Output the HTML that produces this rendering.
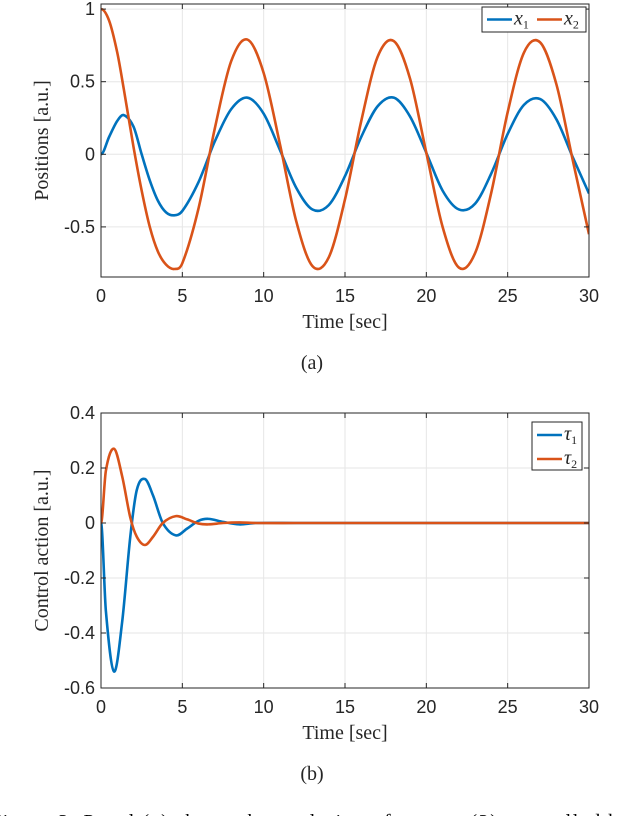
<!DOCTYPE html>
<html><head><meta charset="utf-8"><style>
html,body{margin:0;padding:0;background:#fff;overflow:hidden}
svg{display:block}
.tk{font-family:"Liberation Sans",sans-serif;font-size:18px;fill:#262626}
.lb{font-family:"Liberation Serif",serif;font-size:20px;fill:#262626}
.cap{font-family:"Liberation Serif",serif;font-size:20px;fill:#000}
.grid{stroke:#e6e6e6;stroke-width:1}
</style></head><body>
<svg id="fig" width="624" height="816" viewBox="0 0 624 816" xmlns="http://www.w3.org/2000/svg">
<defs>
<clipPath id="clipA"><rect x="101" y="4" width="488" height="273"/></clipPath>
<clipPath id="clipB"><rect x="101" y="413" width="488" height="275"/></clipPath>
</defs>
<g id="plotA"></g>
<g id="plotB"></g>
<text class="lb" x="312" y="369" text-anchor="middle">(a)</text>
<text class="lb" x="312" y="780" text-anchor="middle">(b)</text>
<text class="cap" x="-10" y="828" textLength="640" lengthAdjust="spacing">Figure 3:   Panel (a) shows the evolution of system (3) controlled by</text>
</svg>
<script>
// ---- Panel (a) data ----
const tA = [0,0.5,1,1.4,2,2.5,3,3.5,4,4.5,5,6,7,8,9,10,11,12,13,14,15,16,17,18,19,20,21,22,23,24,25,26,27,28,29,30];
const x1 = [0,0.12,0.23,0.27,0.19,0.0,-0.18,-0.32,-0.40,-0.42,-0.39,-0.19,0.09,0.31,0.39,0.28,0.03,-0.23,-0.38,-0.35,-0.15,0.12,0.33,0.39,0.26,0.01,-0.25,-0.38,-0.34,-0.13,0.14,0.34,0.38,0.24,-0.02,-0.27];
const x2 = [1,0.92,0.70,0.45,0.05,-0.25,-0.50,-0.67,-0.76,-0.79,-0.75,-0.37,0.18,0.64,0.79,0.56,0.07,-0.46,-0.77,-0.71,-0.31,0.23,0.67,0.78,0.52,0.01,-0.50,-0.78,-0.68,-0.26,0.29,0.70,0.77,0.48,-0.04,-0.55];
const xTicks = [0,5,10,15,20,25,30];
const yTicksA = [-0.5,0,0.5,1];
const yTickLabelsA = ["-0.5","0","0.5","1"];
// ---- Panel (b) data ----
const tB = [0,0.3,0.8,1.3,1.8,2.2,2.7,3.2,3.8,4.6,5.3,6,6.6,7.5,8.5,9.5,12,30];
const tau1 = [0,-0.32,-0.54,-0.36,-0.05,0.12,0.16,0.10,0.0,-0.045,-0.02,0.008,0.015,0.004,-0.005,0,0,0];
const tau2 = [0,0.19,0.27,0.17,0.02,-0.05,-0.08,-0.05,0.0,0.025,0.013,-0.002,-0.005,0.0,0.002,0,0,0];
const yTicksB = [-0.6,-0.4,-0.2,0,0.2,0.4];
const yTickLabelsB = ["-0.6","-0.4","-0.2","0","0.2","0.4"];

const NS="http://www.w3.org/2000/svg";
const BLUE="#0072bd", ORANGE="#d95319";
function mk(tag,attrs,parent){const e=document.createElementNS(NS,tag);for(const k in attrs)e.setAttribute(k,attrs[k]);parent.appendChild(e);return e;}
function smoothPath(pts){
  let d="M"+pts[0][0].toFixed(2)+","+pts[0][1].toFixed(2);
  for(let i=0;i<pts.length-1;i++){
    const p0=pts[Math.max(0,i-1)],p1=pts[i],p2=pts[i+1],p3=pts[Math.min(pts.length-1,i+2)];
    const h=(p2[0]-p1[0]);
    let m1=(p2[1]-p0[1])/(p2[0]-p0[0]||1), m2=(p3[1]-p1[1])/(p3[0]-p1[0]||1);
    if(i===0) m1=0;
    d+=" C"+(p1[0]+h/3).toFixed(2)+","+(p1[1]+m1*h/3).toFixed(2)+" "+(p2[0]-h/3).toFixed(2)+","+(p2[1]-m2*h/3).toFixed(2)+" "+p2[0].toFixed(2)+","+p2[1].toFixed(2);
  }
  return d;
}
function drawPanel(g,cfg){
  const L=101,R=589,T=cfg.top,B=cfg.bottom;
  const sx=t=>L+(t-0)/(30-0)*(R-L);
  const sy=v=>B-(v-cfg.ymin)/(cfg.ymax-cfg.ymin)*(B-T);
  mk("rect",{x:L,y:T,width:R-L,height:B-T,fill:"#fff"},g);
  xTicks.forEach(t=>{
    const l=mk("line",{x1:sx(t),x2:sx(t),y1:T,y2:B,class:"grid"},g);
    
    
  });
  cfg.yt.forEach(v=>{
    const l=mk("line",{x1:L,x2:R,y1:sy(v),y2:sy(v),class:"grid"},g);
    
    
  });
  cfg.series.forEach(s=>{
    const pts=s.t.map((t,i)=>[sx(t),sy(s.v[i])]);
    const p=mk("path",{d:smoothPath(pts),fill:"none",stroke:s.c,"stroke-width":2.6,"stroke-linejoin":"round","clip-path":cfg.clip},g);
    
    
  });
  const ax=mk("rect",{x:L,y:T,width:R-L,height:B-T,fill:"none",stroke:"#262626","stroke-width":1},g);
  
  
  xTicks.forEach(t=>{
    mk("line",{x1:sx(t),x2:sx(t),y1:B,y2:B-5,stroke:"#262626"},g);
    mk("line",{x1:sx(t),x2:sx(t),y1:T,y2:T+5,stroke:"#262626"},g);
    const tx=mk("text",{x:sx(t),y:B+25,class:"tk","text-anchor":"middle"},g);
    tx.textContent=String(t);
    
    
  });
  cfg.yt.forEach((v,i)=>{
    mk("line",{x1:L,x2:L+5,y1:sy(v),y2:sy(v),stroke:"#262626"},g);
    mk("line",{x1:R,x2:R-5,y1:sy(v),y2:sy(v),stroke:"#262626"},g);
    const tx=mk("text",{x:L-6,y:sy(v)+6,class:"tk","text-anchor":"end"},g);
    tx.textContent=cfg.ytl[i];
    
    
  });
  const xl=mk("text",{x:345,y:B+51,class:"lb","text-anchor":"middle"},g);
  xl.textContent="Time [sec]";
  
  
  const yc=(T+B)/2;
  const yl=mk("text",{x:48,y:yc,class:"lb","text-anchor":"middle",transform:"rotate(-90 48 "+yc+")"},g);
  yl.textContent=cfg.ylabel;
  
  
}
const gA=document.getElementById("plotA"), gB=document.getElementById("plotB");
drawPanel(gA,{top:4,bottom:277,ymin:-0.845,ymax:1.035,yt:yTicksA,ytl:yTickLabelsA,ylabel:"Positions [a.u.]",clip:"url(#clipA)",
  series:[{t:tA,v:x1,c:BLUE,name:"x1-line"},{t:tA,v:x2,c:ORANGE,name:"x2-line"}]});
drawPanel(gB,{top:413,bottom:688,ymin:-0.6,ymax:0.4,yt:yTicksB,ytl:yTickLabelsB,ylabel:"Control action [a.u.]",clip:"url(#clipB)",
  series:[{t:tB,v:tau1,c:BLUE,name:"tau1-line"},{t:tB,v:tau2,c:ORANGE,name:"tau2-line"}]});

// legends
function legend(g,x,y,w,h,items,horiz){
  const lg=mk("g",{},g);
  
  
  mk("rect",{x:x,y:y,width:w,height:h,fill:"#fff",stroke:"#262626","stroke-width":1},lg);
  items.forEach((it,i)=>{
    const ox=horiz? x+5+i*50 : x+5, oy=horiz? y+h/2 : y+13+i*24;
    const e=mk("g",{},lg);
    
    
    mk("line",{x1:ox,x2:ox+25,y1:oy,y2:oy,stroke:it.c,"stroke-width":2.6},e);
    const t=mk("text",{x:ox+27,y:oy+5,class:"lb","font-style":"italic","font-size":"18"},e);
    t.innerHTML=it.base+'<tspan font-style="normal" font-size="12" dy="4">'+it.sub+'</tspan>';
  });
}
legend(gA,482,7,104,25,[{c:BLUE,base:"x",sub:"1"},{c:ORANGE,base:"x",sub:"2"}],true);
legend(gB,532,422,50,48,[{c:BLUE,base:"τ",sub:"1"},{c:ORANGE,base:"τ",sub:"2"}],false);
</script>
</body></html>
